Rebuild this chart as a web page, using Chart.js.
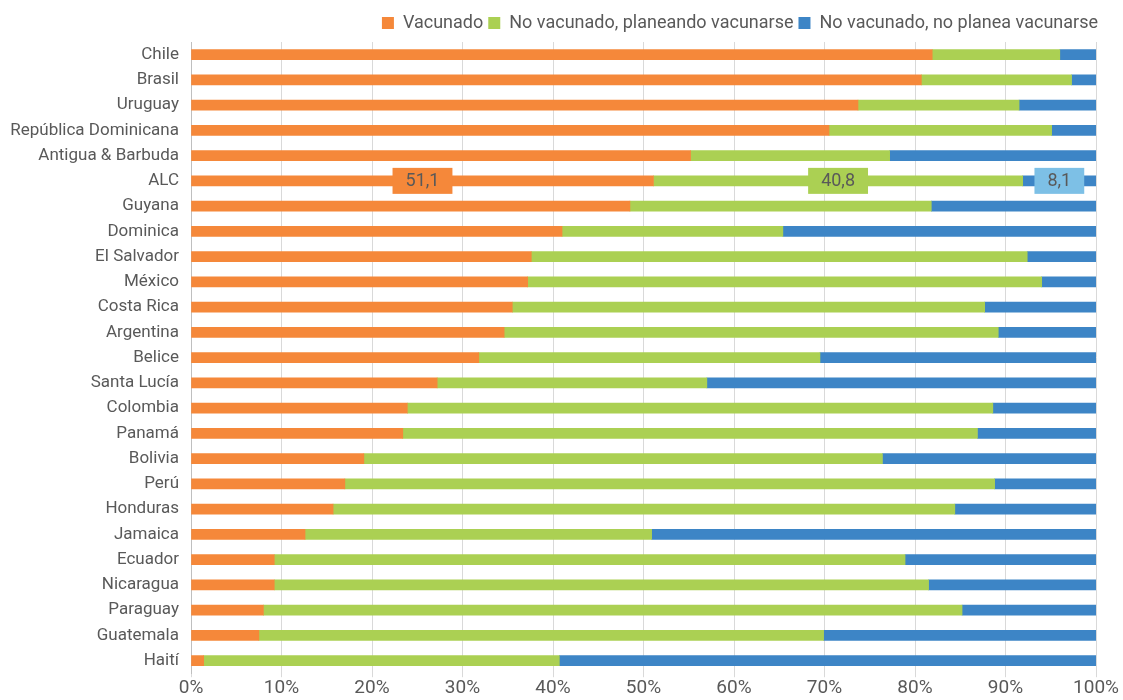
<html>
<head>
  <meta charset="utf-8">
  <title>Vacunación COVID-19</title>
  <script src="https://cdn.jsdelivr.net/npm/chart.js"></script>
  <style>
    body { margin: 0; background: #fff; }
    #wrap { width: 1123px; height: 700px; }
  </style>
</head>
<body>
  <div id="wrap"><canvas id="grafico"></canvas></div>

  <script>
    const paises = ['Chile', 'Brasil', 'Uruguay', 'República Dominicana', 'Antigua & Barbuda', 'ALC',
      'Guyana', 'Dominica', 'El Salvador', 'México', 'Costa Rica', 'Argentina', 'Belice', 'Santa Lucía',
      'Colombia', 'Panamá', 'Bolivia', 'Perú', 'Honduras', 'Jamaica', 'Ecuador', 'Nicaragua',
      'Paraguay', 'Guatemala', 'Haití'];
    const vacunado = [81.9, 80.7, 73.7, 70.5, 55.2, 51.1, 48.5, 41.0, 37.6, 37.2, 35.5, 34.6, 31.8, 27.2,
      23.9, 23.4, 19.1, 17.0, 15.7, 12.6, 9.2, 9.2, 8.0, 7.5, 1.4];
    const planea = [14.1, 16.6, 17.8, 24.6, 22.0, 40.8, 33.3, 24.4, 54.8, 56.8, 52.2, 54.6, 37.7, 29.8,
      64.7, 63.5, 57.3, 71.8, 68.7, 38.3, 69.7, 72.3, 77.2, 62.4, 39.3];
    const noPlanea = [4.0, 2.7, 8.5, 4.9, 22.8, 8.1, 18.2, 34.6, 7.6, 6.0, 12.3, 10.8, 30.5, 43.0,
      11.4, 13.1, 23.6, 11.2, 15.6, 49.1, 21.1, 18.5, 14.8, 30.1, 59.3];
    const ticksX = [0, 10, 20, 30, 40, 50, 60, 70, 80, 90, 100];

    const fuente = "'Roboto', sans-serif";
    const gris = '#595959';
    const colores = ['#F5883A', '#ABD053', '#3D85C6'];
    const coloresEtiqueta = ['#F5883A', '#ABD053', '#7DC0E6'];

    // cajas con el valor de cada segmento en la fila ALC
    const etiquetasALC = {
      id: 'etiquetasALC',
      afterDatasetsDraw(chart) {
        const ctx = chart.ctx;
        const fila = paises.indexOf('ALC');
        ctx.save();
        ctx.font = '18px ' + fuente;
        ctx.textAlign = 'center';
        ctx.textBaseline = 'middle';
        chart.data.datasets.forEach((ds, i) => {
          const bar = chart.getDatasetMeta(i).data[fila];
          const cx = (bar.x + bar.base) / 2;
          const txt = ds.data[fila].toFixed(1).replace('.', ',');
          const w = ctx.measureText(txt).width + 26;
          const h = 26;
          ctx.fillStyle = coloresEtiqueta[i];
          ctx.fillRect(cx - w / 2, bar.y - h / 2, w, h);
          ctx.fillStyle = gris;
          ctx.fillText(txt, cx, bar.y + 1);
        });
        ctx.restore();
      }
    };

    new Chart(document.getElementById('grafico'), {
      type: 'bar',
      data: {
        labels: paises,
        datasets: [
          { label: 'Vacunado', data: vacunado, backgroundColor: colores[0] },
          { label: 'No vacunado, planeando vacunarse', data: planea, backgroundColor: colores[1] },
          { label: 'No vacunado, no planea vacunarse', data: noPlanea, backgroundColor: colores[2] }
        ]
      },
      options: {
        indexAxis: 'y',
        responsive: true,
        maintainAspectRatio: false,
        animation: false,
        barThickness: 10,
        layout: { padding: { left: 0, right: 20, top: 9, bottom: 0 } },
        plugins: {
          legend: {
            position: 'top',
            align: 'end',
            labels: {
              font: { family: fuente, size: 18 },
              color: gris,
              boxWidth: 12,
              boxHeight: 12,
              padding: 5
            }
          },
          tooltip: { enabled: false }
        },
        scales: {
          x: {
            stacked: true,
            min: 0,
            max: 100,
            afterBuildTicks: s => { s.ticks = ticksX.map(v => ({ value: v })); },
            afterFit: s => { s.paddingRight = 27; },
            ticks: {
              callback: v => v + '%',
              font: { family: fuente, size: 19 },
              color: gris,
              padding: 0,
              maxRotation: 0
            },
            grid: { color: '#d9d9d9', tickLength: 4 },
            border: { display: false }
          },
          y: {
            stacked: true,
            afterFit: s => { s.width = 191; },
            ticks: {
              font: { family: fuente, size: 17 },
              color: gris,
              padding: 4,
              autoSkip: false
            },
            grid: { display: false },
            border: { display: true, color: '#bfbfbf' }
          }
        }
      },
      plugins: [etiquetasALC]
    });
  </script>
</body>
</html>
